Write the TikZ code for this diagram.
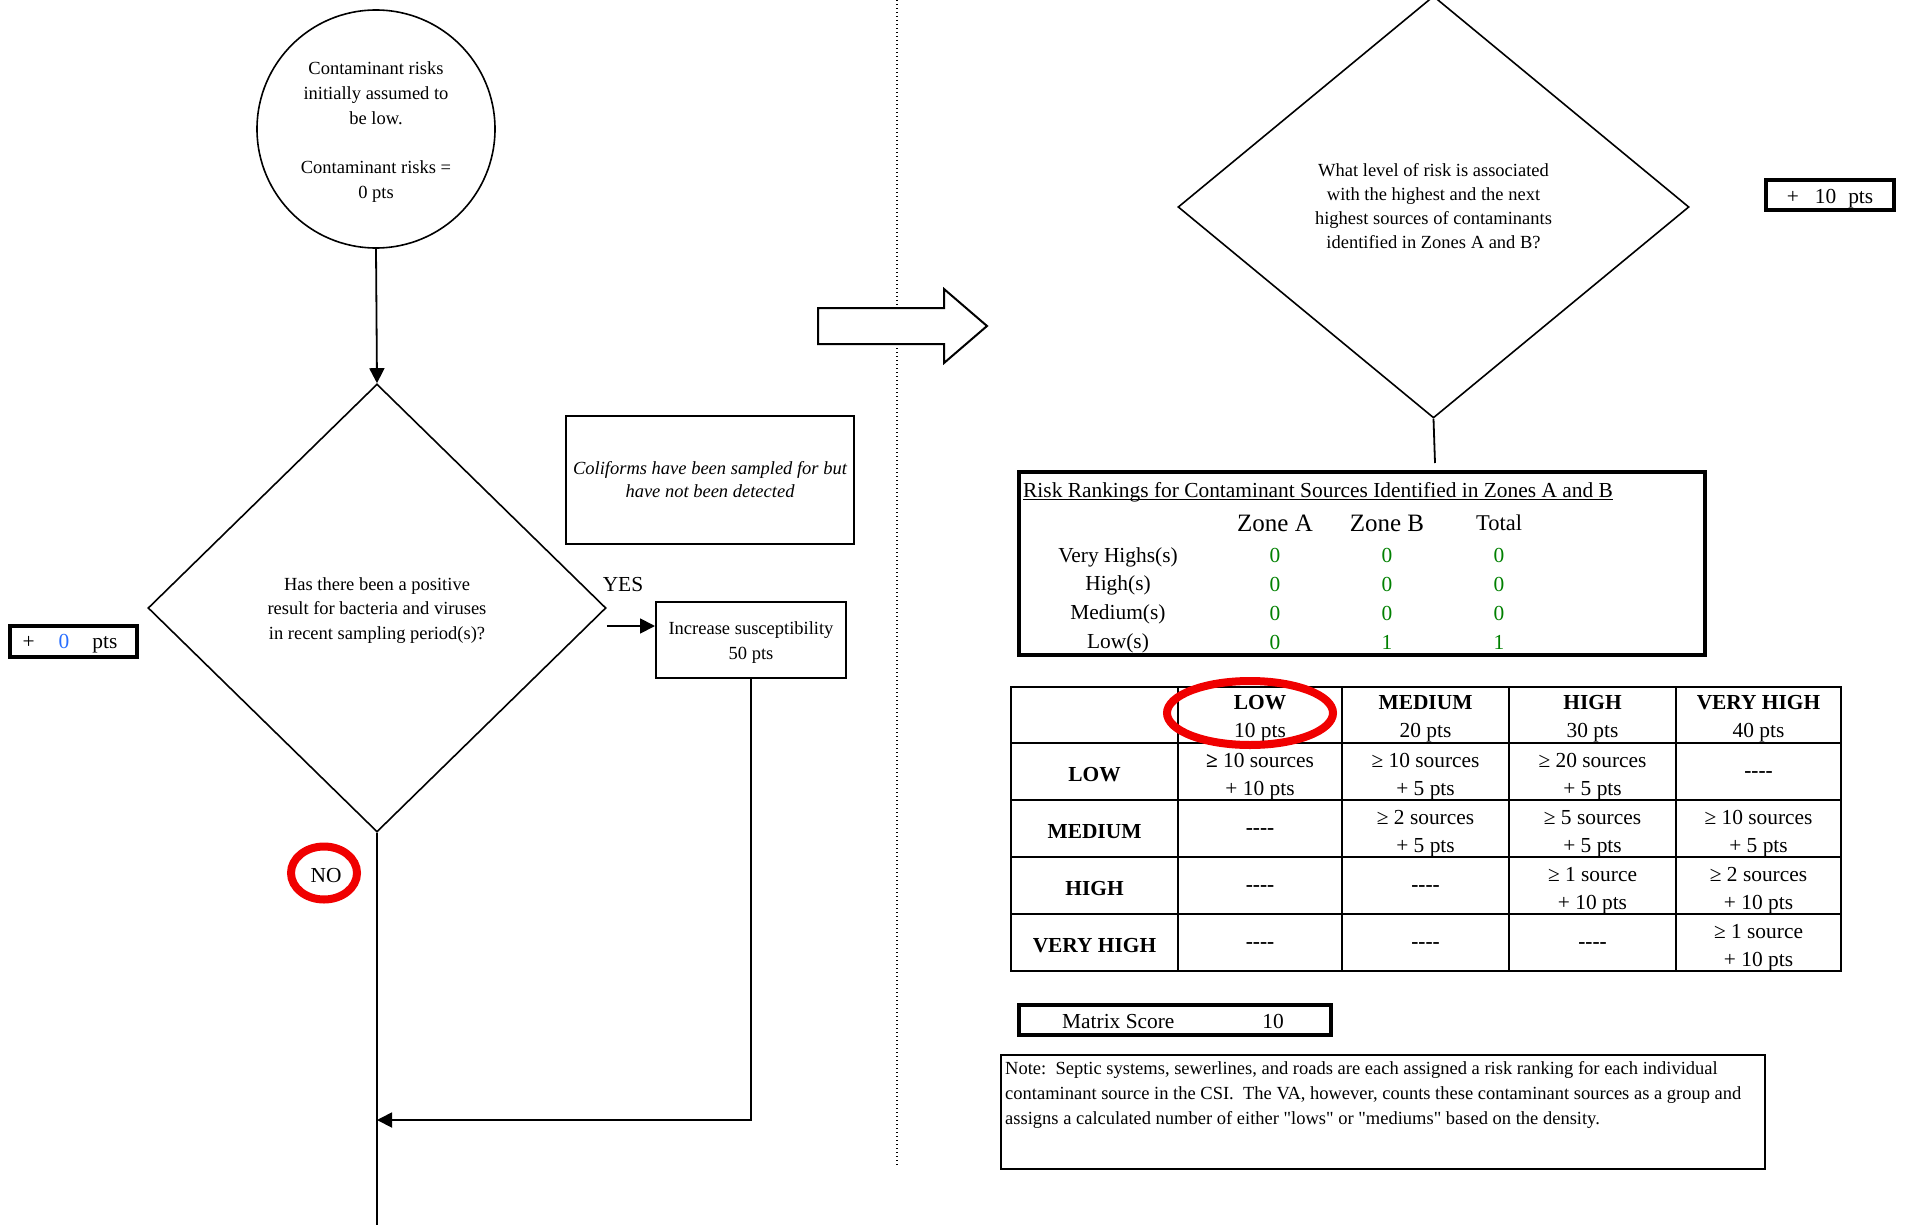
\documentclass[tikz,border=0pt]{standalone}
\usepackage{fontspec}
\setmainfont{Liberation Serif}[Ligatures=TeXOff]
\usetikzlibrary{shapes.geometric,arrows.meta}
\definecolor{ggreen}{RGB}{0,128,0}
\definecolor{bblue}{RGB}{40,110,255}
\definecolor{rred}{RGB}{240,0,0}
\newcommand{\myfs}[2]{\fontsize{#1}{#2}\selectfont}
\begin{document}
\begin{tikzpicture}[x=1pt,y=-1pt,
  every node/.style={inner sep=0pt},
  body/.style={font=\myfs{18.5}{24.8}, align=center},
  bigf/.style={font=\myfs{21.4}{27.6}},
  cell/.style={font=\myfs{21.4}{27.6}, align=center},
  conn/.style={line width=1.8pt},
  arr/.style={conn, -{Triangle[length=15pt,width=15pt]}},
  thickbox/.style={draw, rectangle, line width=3.8pt},
  ring/.style={draw=rred, line width=8pt, ellipse},
  gridline/.style={line width=2.2pt},
  val/.style={font=\myfs{21.4}{26}, text=ggreen},
]
\useasboundingbox (0,0) rectangle (1908,1225);

% dotted divider and block arrow
\draw[line width=1.2pt, dash pattern=on 1.3pt off 2.7pt] (897,0) -- (897,1166);
\draw[line width=2pt, fill=white] (818,308) -- (944,308) -- (944,289) -- (987,326) -- (944,363) -- (944,344) -- (818,344) -- cycle;

% left flow
\node[circle, draw, line width=1.6pt, minimum size=238pt] (circ) at (376,129) {};
\node[body] (circtext) at (376,132)
  {Contaminant risks\\initially assumed to\\be low.\\[24.8pt]Contaminant risks =\\0 pts};
\node[diamond, draw, line width=1.6pt, minimum width=458pt, minimum height=448pt] (dia1) at (377,608) {};
\node[body] (dia1text) at (377,610.5)
  {Has there been a positive\\result for bacteria and viruses\\in recent sampling period(s)?};
\node[draw, line width=2.6pt, minimum width=288pt, minimum height=128pt, align=center, font=\myfs{18.5}{23}\itshape] (coli) at (710,480)
  {Coliforms have been sampled for but\\have not been detected};
\node[bigf] (yes) at (623,585) {YES};
\node[draw, line width=2pt, minimum width=190pt, minimum height=76pt] (inc) at (751,640) {};
\node[body] (inctext) at (751,642.5) {Increase susceptibility\\50 pts};
\node[thickbox, minimum width=127pt, minimum height=31pt] (p0) at (73.5,641.5) {};
\node[bigf] (p0text) at (70,644) {+\hspace{24pt}{\color{bblue}0}\hspace{23pt}pts};
\node[ring, minimum width=66pt, minimum height=53pt] (no) at (324,873) {};
\node[bigf] (notxt) at (326,875.5) {NO};

\coordinate (yesy) at (0,626);
\coordinate (join) at (377,1120);
\coordinate (bot) at (377,1235);
\draw[arr] (circ.south) -- (dia1.north);
\draw[arr] (dia1.east |- yesy) -- (inc.west |- yesy);
\draw[conn] (dia1.south) -- (bot);
\draw[arr] (inc.south) |- (join);

% right side
\node[diamond, draw, line width=1.6pt, minimum width=511pt, minimum height=422pt] (dia2) at (1433.5,207) {};
\node[font=\myfs{18.5}{24.2}, align=center] (dia2text) at (1433.5,206)
  {What level of risk is associated\\with the highest and the next\\highest sources of contaminants\\identified in Zones A and B?};
\node[thickbox, minimum width=128pt, minimum height=30pt] (p10) at (1830,195) {};
\node[bigf] (p10text) at (1830,198.5) {+\hspace{16pt}10\hspace{12pt}pts};
\coordinate (rrtop) at (1435,463);
\draw[conn] (dia2.south) -- (rrtop);

\node[thickbox, minimum width=686pt, minimum height=183pt] (rr) at (1362,563.5) {};
\node[bigf, anchor=base west] (rrtitle) at (1023,497)
  {Risk Rankings for Contaminant Sources Identified in Zones A and B};
\draw[line width=1.3pt] ([yshift=-2.5pt]rrtitle.base west) -- ([yshift=-2.5pt]rrtitle.base east);
\node[font=\myfs{25}{30}] (zA) at (1275,523) {Zone A};
\node[font=\myfs{25}{30}] (zB) at (1387,523) {Zone B};
\node[font=\myfs{22.5}{28}] (zT) at (1499,523) {Total};
\node[bigf] (l1) at (1118,557) {Very Highs(s)};
\node[bigf] (l2) at (1118,585.5) {High(s)};
\node[bigf] (l3) at (1118,614.5) {Medium(s)};
\node[bigf] (l4) at (1118,643.5) {Low(s)};
\node[val] (v11) at (1275,555.5) {0};
\node[val] (v12) at (1387,555.5) {0};
\node[val] (v13) at (1499,555.5) {0};
\node[val] (v21) at (1275,584.5) {0};
\node[val] (v22) at (1387,584.5) {0};
\node[val] (v23) at (1499,584.5) {0};
\node[val] (v31) at (1275,613.5) {0};
\node[val] (v32) at (1387,613.5) {0};
\node[val] (v33) at (1499,613.5) {0};
\node[val] (v41) at (1275,642.5) {0};
\node[val] (v42) at (1387,642.5) {1};
\node[val] (v43) at (1499,642.5) {1};

% matrix
\draw[gridline] (1011,687) rectangle (1841,971);
\foreach \xx in {1178,1342,1509,1676} {\draw[gridline] (\xx,687) -- (\xx,971);}
\foreach \yy in {743,800,857,914} {\draw[gridline] (1011,\yy) -- (1841,\yy);}

\node[cell] (h1) at (1260,718.5) {\textbf{LOW}\\10 pts};
\node[cell] (h2) at (1425.5,718.5) {\textbf{MEDIUM}\\20 pts};
\node[cell] (h3) at (1592.5,718.5) {\textbf{HIGH}\\30 pts};
\node[cell] (h4) at (1758.5,718.5) {\textbf{VERY HIGH}\\40 pts};
\node[cell] (r1) at (1094.5,774.5) {\textbf{LOW}};
\node[cell] (r2) at (1094.5,831.5) {\textbf{MEDIUM}};
\node[cell] (r3) at (1094.5,888.5) {\textbf{HIGH}};
\node[cell] (r4) at (1094.5,945.5) {\textbf{VERY HIGH}};
\node[cell] (c11) at (1260,776.5) {\textbf{≥} 10 sources\\+ 10 pts};
\node[cell] (c12) at (1425.5,776.5) {≥ 10 sources\\+ 5 pts};
\node[cell] (c13) at (1592.5,776.5) {≥ 20 sources\\+ 5 pts};
\node[cell] (c14) at (1758.5,774.5) {\textbf{----}};
\node[cell] (c21) at (1260,831.5) {\textbf{----}};
\node[cell] (c22) at (1425.5,833.5) {≥ 2 sources\\+ 5 pts};
\node[cell] (c23) at (1592.5,833.5) {≥ 5 sources\\+ 5 pts};
\node[cell] (c24) at (1758.5,833.5) {≥ 10 sources\\+ 5 pts};
\node[cell] (c31) at (1260,888.5) {\textbf{----}};
\node[cell] (c32) at (1425.5,888.5) {\textbf{----}};
\node[cell] (c33) at (1592.5,890.5) {≥ 1 source\\+ 10 pts};
\node[cell] (c34) at (1758.5,890.5) {≥ 2 sources\\+ 10 pts};
\node[cell] (c41) at (1260,945.5) {\textbf{----}};
\node[cell] (c42) at (1425.5,945.5) {\textbf{----}};
\node[cell] (c43) at (1592.5,945.5) {\textbf{----}};
\node[cell] (c44) at (1758.5,947.5) {≥ 1 source\\+ 10 pts};
\node[ring, minimum width=166pt, minimum height=64pt] (lowring) at (1250,713) {};

% matrix score and note
\node[thickbox, minimum width=312pt, minimum height=30pt] (ms) at (1175,1020) {};
\node[bigf] (mstext) at (1173,1021.5) {Matrix Score\hspace{88pt}10};
\node[draw, line width=2pt, minimum width=764pt, minimum height=114pt] (notebox) at (1383,1112) {};
\node[anchor=north west, font=\myfs{18.5}{25}, align=left] (notetext) at (1005,1061)
  {Note:~~Septic systems, sewerlines, and roads are each assigned a risk ranking for each individual\\
   contaminant source in the CSI.~~The VA, however, counts these contaminant sources as a group and\\
   assigns a calculated number of either "lows" or "mediums" based on the density.};
\end{tikzpicture}
\end{document}
